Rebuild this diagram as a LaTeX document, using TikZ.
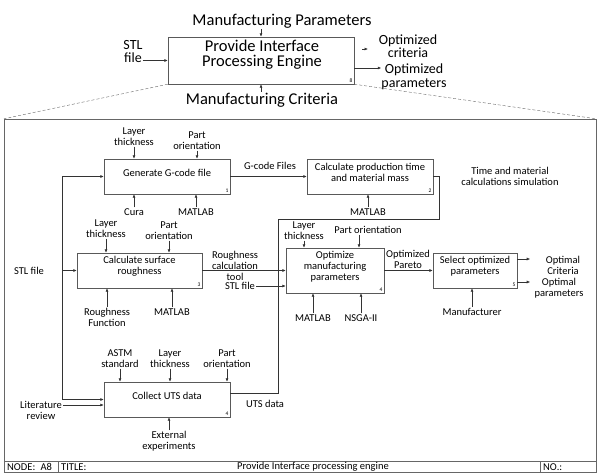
\documentclass[tikz,border=0pt]{standalone}
\usepackage{fontspec}
\setmainfont{Carlito}
\usetikzlibrary{arrows.meta}
\tikzset{
  act/.style={draw=black!65, rectangle, inner sep=0pt},
  lbl/.style={font=\fontsize{10.5}{11}\selectfont, align=center, inner sep=1pt},
  biglbl/.style={font=\fontsize{16.5}{15.5}\selectfont, align=center, inner sep=1pt},
  outlbl/.style={font=\fontsize{14}{13.5}\selectfont, align=center, inner sep=0pt},
  boxnum/.style={font=\fontsize{5.5}{6}\selectfont, anchor=south east, inner sep=1.5pt},
  flow/.style={draw=black!80, line width=0.6pt, -{Latex[length=3.5pt,width=3pt]}},
  pipe/.style={draw=black!80, line width=0.6pt},
}
\begin{document}
\begin{tikzpicture}[x=1pt, y=-1pt]
\useasboundingbox (0,0) rectangle (601,474);

% parent activity
\node[act, minimum width=186pt, minimum height=47pt] (ctx) at (261,60.5) {};
\node[biglbl] (ctxtxt) at (262,54.5) {Provide Interface\\Processing Engine};
\node[boxnum] (ctxnum) at (ctx.south east) {8};
\node[biglbl] (mparam) at (282,21) {Manufacturing Parameters};
\node[biglbl] (mcrit) at (262,100) {Manufacturing Criteria};
\node[outlbl] (stltop) at (133,51.5) {STL\\file};
\node[outlbl] (optcrit) at (408,46) {Optimized\\criteria};
\node[outlbl] (optpar) at (414,77) {Optimized\\parameters};
\coordinate (critstub) at (362,49);
\draw[flow] (mparam.south -| ctx.north) -- (ctx.north);
\draw[flow] (mcrit.north -| ctx.south) -- (ctx.south);
\draw[flow] (stltop.east |- ctx.west) -- (ctx.west);
\draw[flow] (critstub) -- ++(6,0);
\draw[flow] (ctx.east |- 0,68) -- (optpar.west |- 0,68);

% frame of the child diagram
\node[draw=black!60, minimum width=592pt, minimum height=353pt, inner sep=0pt] (frame) at (300,295.5) {};
\draw[black!60, densely dashed] (ctx.south west) -- (frame.north west);
\draw[black!60, densely dashed] (ctx.south east) -- (frame.north east);
\draw[black!60] (frame.west |- 0,461) -- (frame.east |- 0,461);
\draw[black!60] (58,461) -- (58,472);
\draw[black!60] (540,461) -- (540,472);
\node[lbl, anchor=west] (fnode) at (6,467) {NODE:\enspace A8};
\node[lbl, anchor=west] (ftitle) at (60,467) {TITLE:};
\node[lbl] (fname) at (313,467) {Provide Interface processing engine};
\node[lbl, anchor=west] (fno) at (542,467) {NO.:};

% activity boxes
\node[act, minimum width=126pt, minimum height=35pt] (gcode) at (167,176.5) {};
\node[lbl] at (167,173) {Generate G-code file};
\node[boxnum] at (gcode.south east) {1};

\node[act, minimum width=126pt, minimum height=35pt] (prod) at (370,176.5) {};
\node[lbl] at (370,172.5) {Calculate production time\\and material mass};
\node[boxnum] at (prod.south east) {2};

\node[act, minimum width=125pt, minimum height=35pt] (rough) at (139.5,270.5) {};
\node[lbl] at (139.5,266.5) {Calculate surface\\roughness};
\node[boxnum] at (rough.south east) {3};

\node[act, minimum width=98pt, minimum height=45pt] (optim) at (335,270.5) {};
\node[lbl] at (335,267) {Optimize\\manufacturing\\parameters};
\node[boxnum] at (optim.south east) {4};

\node[act, minimum width=84pt, minimum height=35pt] (select) at (475,270.5) {};
\node[lbl] at (475,266.5) {Select optimized\\parameters};
\node[boxnum] at (select.south east) {5};

\node[act, minimum width=126pt, minimum height=35pt] (uts) at (167,399.5) {};
\node[lbl] at (167,396) {Collect UTS data};
\node[boxnum] at (uts.south east) {4};

% labels round box 1
\node[lbl] (lt1) at (134,136.5) {Layer\\thickness};
\node[lbl] (po1) at (197,140.5) {Part\\orientation};
\node[lbl] (cura) at (134,212) {Cura};
\node[lbl] (mat1) at (196,212) {MATLAB};
\draw[flow] (lt1.south) -- (lt1.south |- gcode.north);
\draw[flow] (po1.south) -- (po1.south |- gcode.north);
\draw[flow] (cura.north) -- (cura.north |- gcode.south);
\draw[flow] (mat1.north) -- (mat1.north |- gcode.south);

% box 2
\node[lbl] (gfiles) at (270,166) {G-code Files};
\node[lbl] (mat2) at (368,212) {MATLAB};
\node[lbl] (tmsim) at (510,176.5) {Time and material\\calculations simulation};
\draw[flow] (gcode.east) -- (prod.west);
\draw[flow] (mat2.north) -- (mat2.north |- prod.south);

% box 3
\node[lbl] (lt3) at (106,228.5) {Layer\\thickness};
\node[lbl] (po3) at (169,230.5) {Part\\orientation};
\node[lbl] (rfun) at (107,317) {Roughness\\Function};
\node[lbl] (mat3) at (172,312) {MATLAB};
\node[lbl] (stlleft) at (29,271) {STL file};
\draw[flow] (lt3.south) -- (lt3.south |- rough.north);
\draw[flow] (po3.south) -- (po3.south |- rough.north);
\draw[flow] (rfun.north) -- (rfun.north |- rough.south);
\draw[flow] (mat3.north) -- (mat3.north |- rough.south);

% STL bus on the left
\coordinate (busA) at (gcode.west -| 62,0);
\coordinate (busB) at (rough.west -| 62,0);
\coordinate (busC) at (uts.west -| 62,0);
\draw[pipe] (busA) -- (busC);
\draw[flow] (busA) -- (gcode.west);
\draw[flow] (busB) -- (rough.west);
\draw[flow] (busC) -- (uts.west);

% box 4 (collect UTS)
\node[lbl] (astm) at (120,358.5) {ASTM\\standard};
\node[lbl] (lt6) at (170,358.5) {Layer\\thickness};
\node[lbl] (po6) at (227,358.5) {Part\\orientation};
\node[lbl] (extexp) at (169,441.5) {External\\experiments};
\node[lbl] (litrev) at (41,410.5) {Literature\\review};
\node[lbl] (utsdata) at (265,404) {UTS data};
\draw[flow] (astm.south) -- (astm.south |- uts.north);
\draw[flow] (lt6.south) -- (lt6.south |- uts.north);
\draw[flow] (po6.south) -- (po6.south |- uts.north);
\draw[flow] (extexp.north) -- (extexp.north |- uts.south);
\draw[flow] (litrev.east |- 0,405) -- (uts.west |- 0,405);

% feedback into optimisation
\coordinate (jn) at (278,219);
\draw[pipe] (prod.east) -- ++(6,0) |- (jn) -- (278,393) -- (uts.east |- 0,393);

% box 4 (optimize)
\node[lbl] (lt4) at (304,230.5) {Layer\\thickness};
\node[lbl] (po4) at (368,230) {Part orientation};
\node[lbl] (rtool) at (235,265.5) {Roughness\\calculation\\tool};
\node[lbl] (stlmid) at (240,286) {STL file};
\node[lbl] (mat4) at (313,318) {MATLAB};
\node[lbl] (nsga) at (361,318) {NSGA-II};
\draw[flow] (lt4.south) -- (lt4.south |- optim.north);
\draw[flow] (po4.south -| 359,0) -- (optim.north -| 359,0);
\draw[flow] (rough.east) -- (optim.west |- rough.east);
\draw[flow] (stlmid.east) -- (optim.west |- stlmid.east);
\draw[flow] (mat4.north) -- (mat4.north |- optim.south);
\draw[flow] (nsga.north) -- (nsga.north |- optim.south);

% box 5
\node[lbl] (opareto) at (408,259.5) {Optimized\\Pareto};
\node[lbl] (ocrit) at (563,265.5) {Optimal\\Criteria};
\node[lbl] (opar) at (559,288.5) {Optimal\\parameters};
\node[lbl] (manuf) at (472,312) {Manufacturer};
\draw[flow] (optim.east) -- (select.west);
\draw[flow] (select.east |- 0,259) -- ++(13,0);
\draw[flow] (select.east |- 0,282) -- ++(13,0);
\draw[flow] (manuf.north) -- (manuf.north |- select.south);
\end{tikzpicture}
\end{document}
